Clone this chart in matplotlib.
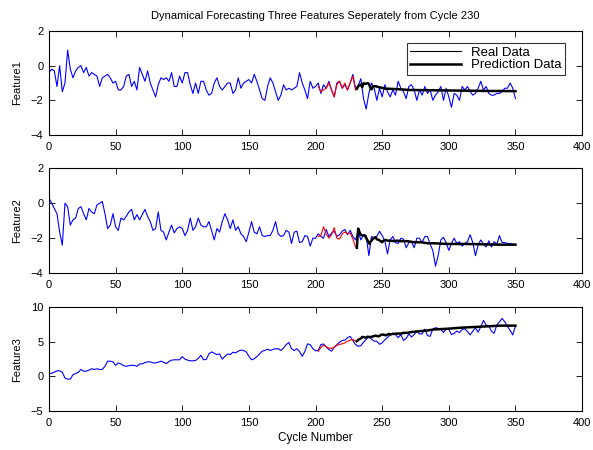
import matplotlib
matplotlib.use('Agg')
import matplotlib.pyplot as plt
from matplotlib.lines import Line2D
import numpy as np

plt.rcParams['font.family'] = ['Liberation Sans', 'DejaVu Sans']

# real data, sampled every 2 cycles (0..350)
cycles = np.arange(0, 351, 2)

feature1 = [
    -0.4, -0.2, -0.3, -1.2, 0.0, -1.5, -1.0, 0.9, -0.2, -0.7,
    -0.3, -0.1, 0.0, -0.4, -0.1, -0.6, -0.4, -0.5, -0.6, -1.2,
    -0.7, -0.6, -0.5, -0.7, -1.0, -0.9, -1.4, -1.4, -1.2, -0.6,
    -0.5, -1.2, -0.9, -1.4, -0.1, -0.5, -0.9, -0.3, -1.0, -1.4,
    -1.8, -1.1, -0.7, -0.8, -0.7, -0.9, -0.4, -1.2, -1.2, -0.6,
    -1.0, -0.4, -0.4, -1.1, -1.6, -1.0, -1.6, -0.9, -0.9, -1.4,
    -1.7, -1.6, -1.0, -0.7, -1.2, -1.4, -1.2, -1.0, -1.0, -1.6,
    -1.4, -0.7, -1.3, -1.0, -0.9, -0.8, -1.0, -0.5, -0.9, -1.4,
    -1.9, -2.0, -1.2, -0.7, -1.0, -1.5, -2.0, -1.7, -1.1, -1.4,
    -1.3, -1.4, -1.3, -1.2, -0.4, -1.0, -1.4, -1.9, -0.9, -1.3,
    -1.2, -1.0, -1.6, -1.1, -1.3, -0.9, -1.4, -1.8, -1.0, -0.9,
    -1.3, -1.1, -1.4, -1.0, -0.5, -1.3, -1.15, -0.75, -1.9, -2.5,
    -1.6, -1.0, -1.3, -2.0, -1.3, -1.8, -1.1, -1.5, -1.8, -1.4,
    -1.7, -0.9, -1.3, -1.5, -1.9, -1.2, -1.1, -1.4, -2.0, -1.4,
    -1.7, -1.2, -1.6, -1.4, -2.0, -1.7, -1.5, -1.2, -2.0, -1.3,
    -1.8, -2.4, -1.6, -1.7, -2.0, -1.2, -1.4, -1.2, -1.5, -1.7,
    -1.6, -1.3, -0.9, -1.4, -1.2, -1.6, -1.7, -1.7, -1.6, -1.6,
    -1.5, -1.3, -1.3, -1.0, -1.3, -1.9,
]

feature2 = [
    0.3, 0.0, -0.3, -0.6, -1.65, -2.4, 0.0, -0.2, -1.25, -0.95,
    -0.85, -0.3, -0.2, -0.6, -0.95, -0.3, -0.5, -0.6, -0.1, 0.0,
    0.1, -0.6, -1.45, -1.25, -0.6, -1.35, -1.55, -0.85, -0.95, -0.75,
    -0.5, -0.35, -0.95, -0.65, -0.95, -0.65, -0.35, -0.75, -1.05, -1.55,
    -1.45, -0.5, -1.55, -1.65, -2.1, -1.65, -1.25, -1.7, -1.45, -1.35,
    -1.45, -1.85, -1.55, -0.85, -1.55, -1.35, -0.85, -1.25, -1.35, -1.35,
    -1.05, -1.55, -2.1, -1.45, -1.65, -1.05, -0.6, -0.95, -1.45, -0.95,
    -1.55, -1.35, -1.75, -1.9, -2.2, -1.65, -1.05, -1.65, -1.75, -1.35,
    -1.85, -1.9, -1.85, -1.85, -1.55, -1.05, -1.75, -1.9, -1.85, -1.55,
    -1.65, -2.3, -1.65, -1.6, -2.25, -2.2, -1.85, -1.9, -2.45, -2.0,
    -2.0, -1.75, -1.9, -2.0, -1.5, -1.9, -1.7, -1.6, -1.9, -1.8,
    -1.6, -1.5, -1.8, -1.55, -1.9, -2.1, -1.6, -2.1, -1.8, -1.85,
    -3.0, -1.9, -2.0, -1.9, -1.6, -1.85, -2.15, -2.9, -2.1, -1.9,
    -2.25, -2.3, -2.0, -2.05, -2.55, -2.25, -2.2, -2.55, -2.0, -2.0,
    -2.25, -1.9, -1.9, -2.35, -2.7, -3.6, -3.0, -2.1, -1.95, -2.25,
    -2.7, -2.3, -2.0, -2.3, -2.2, -2.45, -2.3, -2.2, -1.8, -2.25,
    -3.0, -2.4, -2.1, -2.35, -2.5, -2.15, -2.5, -2.2, -2.35, -1.85,
    -2.25, -2.25, -2.3, -2.3, -2.35, -2.35,
]

feature3 = [
    0.4, 0.45, 0.6, 0.8, 0.8, 0.6, -0.25, -0.4, -0.4, 0.25,
    0.4, 0.6, 1.0, 0.75, 0.75, 0.9, 1.1, 1.0, 1.1, 1.0,
    1.0, 1.45, 2.2, 2.2, 2.1, 1.6, 1.95, 1.8, 1.55, 1.45,
    1.55, 1.6, 1.6, 1.45, 1.8, 1.8, 2.0, 2.1, 2.1, 1.95,
    1.95, 2.05, 2.2, 2.05, 1.85, 2.15, 2.35, 2.4, 2.4, 2.4,
    2.85, 2.5, 2.35, 2.25, 2.25, 2.3, 2.6, 3.05, 2.4, 2.45,
    3.25, 3.55, 3.35, 3.15, 3.25, 2.5, 2.9, 3.25, 3.15, 3.5,
    3.4, 3.65, 3.8, 3.75, 3.55, 2.9, 2.4, 2.55, 2.85, 3.25,
    3.65, 3.75, 3.95, 3.75, 3.9, 4.0, 4.0, 3.75, 4.1, 4.6,
    4.9, 4.0, 3.75, 4.0, 3.6, 2.9, 3.6, 4.7, 4.6, 4.0,
    3.7, 3.75, 4.6, 4.7, 4.25, 3.9, 3.65, 4.2, 4.6, 4.95,
    5.2, 5.25, 5.6, 5.8, 5.2, 4.6, 4.35, 4.45, 4.95, 5.35,
    5.8, 5.4, 5.1, 5.1, 4.65, 4.85, 5.3, 5.65, 6.0, 6.25,
    6.05, 5.6, 6.05, 5.2, 5.5, 6.15, 5.7, 6.05, 6.55, 6.15,
    6.15, 6.85, 5.9, 5.8, 6.85, 7.05, 6.95, 6.85, 6.35, 6.85,
    6.8, 6.05, 6.25, 6.55, 6.35, 6.8, 6.9, 6.5, 6.0, 6.55,
    7.05, 6.4, 7.2, 8.1, 7.45, 7.3, 6.55, 6.25, 7.45, 7.9,
    8.4, 7.9, 7.25, 6.65, 6.0, 7.3,
]

# red segment (cycles 202..230)
red_cycles = np.arange(202, 231, 2)
red1 = [-1.2, -1.5, -1.4, -1.3, -1.0, -1.4, -1.8, -1.1, -0.9, -1.3,
        -1.0, -1.4, -1.0, -0.6, -1.4]
red2 = [-1.9, -1.85, -1.35, -1.75, -2.0, -1.8, -1.4, -2.0, -2.05, -1.75,
        -1.65, -1.75, -1.7, -2.05, -2.5]
red3 = [3.6, 4.2, 4.5, 4.3, 4.1, 4.05, 4.2, 4.5, 4.65, 4.7,
        4.85, 5.1, 5.25, 5.35, 5.1]

# prediction from cycle 231
pred1_cycles = [231, 232.5, 234, 235, 236, 237.5, 239, 240, 241, 242, 243, 245,
                247.5, 250, 252.5, 255, 260, 265, 270, 280, 290, 300, 310,
                320, 330, 340, 350]
pred1 = [-1.33, -1.14, -1.09, -1.24, -1.01, -1.05, -1.0, -1.05, -1.24, -1.37,
         -1.2, -1.18, -1.24, -1.28, -1.33, -1.33, -1.35, -1.37, -1.4, -1.41,
         -1.42, -1.43, -1.44, -1.45, -1.46, -1.46, -1.47]

pred2_cycles = [231, 232, 233, 234, 235.5, 237, 238, 239, 240.5, 241, 242.5,
                244, 245, 246, 247.5, 249, 250, 251, 252.5, 254, 256, 259,
                261, 264, 269, 274, 279, 284, 289, 299, 314, 326, 339, 350]
pred2 = [-2.55, -1.45, -1.65, -1.8, -1.85, -1.85, -1.98, -2.13, -2.33, -2.23,
         -2.08, -1.98, -1.94, -2.06, -2.1, -2.18, -2.23, -2.14, -2.1, -2.14,
         -2.14, -2.17, -2.14, -2.17, -2.17, -2.23, -2.23, -2.29, -2.29, -2.33,
         -2.33, -2.35, -2.37, -2.37]

pred3_cycles = [231, 232.5, 234, 235, 236, 237.5, 239, 240, 241, 242.5, 244,
                245, 246, 247.5, 249, 250, 251, 252.5, 254, 255, 256, 257.5,
                259, 261, 264, 266, 269, 271, 276, 284, 289, 299, 309, 319,
                329, 339, 350]
pred3 = [5.1, 5.35, 5.5, 5.7, 5.7, 5.6, 5.75, 5.7, 5.7, 5.75, 5.85,
         5.9, 5.85, 5.8, 6.0, 6.05, 6.05, 5.95, 6.05, 6.15, 6.05, 6.15,
         6.15, 6.2, 6.2, 6.3, 6.3, 6.4, 6.5, 6.65, 6.8, 6.9, 7.05, 7.15,
         7.25, 7.35, 7.35]

fig = plt.figure(figsize=(5.93, 4.5), dpi=100)
rects = [[0.0826, 0.700, 0.899, 0.231],
         [0.0826, 0.393, 0.899, 0.233],
         [0.0826, 0.087, 0.899, 0.230]]

series = [
    (feature1, red1, pred1_cycles, pred1, 'Feature1', (-4, 2), [-4, -2, 0, 2]),
    (feature2, red2, pred2_cycles, pred2, 'Feature2', (-4, 2), [-4, -2, 0, 2]),
    (feature3, red3, pred3_cycles, pred3, 'Feature3', (-5, 10), [-5, 0, 5, 10]),
]

axes = []
for rect, (real, red, pc, pv, name, ylim, yt) in zip(rects, series):
    ax = fig.add_axes(rect)
    ax.plot(cycles, real, color='#0000ff', lw=0.8)
    ax.plot(red_cycles, red, color='#ff0000', lw=0.8)
    ax.plot(pc, pv, color='black', lw=1.8)
    ax.set_xlim(0, 400)
    ax.set_ylim(*ylim)
    ax.set_xticks(range(0, 401, 50))
    ax.set_yticks(yt)
    ax.set_ylabel(name, fontsize=8, labelpad=6)
    ax.tick_params(direction='in', top=True, right=True, length=4, width=0.6,
                   labelsize=8, pad=4)
    ax.tick_params(axis='x', pad=5)
    for sp in ax.spines.values():
        sp.set_linewidth(0.8)
    axes.append(ax)

axes[0].set_title('Dynamical Forecasting Three Features Seperately from Cycle 230',
                  fontsize=8, pad=9)
axes[2].set_xlabel('Cycle Number', fontsize=8.5, labelpad=3)

handles = [Line2D([], [], color='black', lw=0.8),
           Line2D([], [], color='black', lw=1.8)]
leg = axes[0].legend(handles, ['Real Data', 'Prediction Data'], loc='upper right',
                     bbox_to_anchor=(0.968, 0.885), fontsize=9.5, frameon=True,
                     fancybox=False, edgecolor='black', handlelength=3.9,
                     borderpad=0.25, labelspacing=0.05, handletextpad=0.75,
                     borderaxespad=0)
leg.get_frame().set_linewidth(0.8)

fig.savefig('out.png', dpi=100)
